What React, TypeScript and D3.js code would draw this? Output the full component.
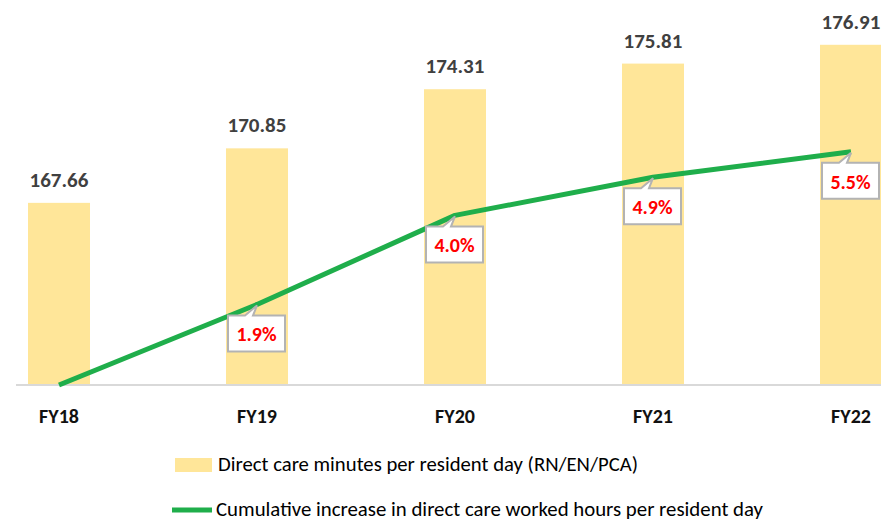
import * as d3 from "d3";

const years = ["FY18", "FY19", "FY20", "FY21", "FY22"];
const careMinutes = [167.66, 170.85, 174.31, 175.81, 176.91];
const cumulativeIncrease = [0, 1.9, 4.0, 4.9, 5.5];
const increaseLabels = ["", "1.9%", "4.0%", "4.9%", "5.5%"];
const legendLabels = [
  "Direct care minutes per resident day (RN/EN/PCA)",
  "Cumulative increase in direct care worked hours per resident day",
];

const width = 881;
const height = 521;
const baseline = 385;
const barWidth = 62;
const font = "Carlito, Calibri, Lato, 'Open Sans', sans-serif";
const barColor = "#ffe699";
const lineColor = "#1fae4b";

export default function App() {
  const x = d3.scalePoint<string>().domain(years).range([59, 851]);
  const yBars = d3.scaleLinear().domain([157, 180]).range([baseline, -8]);
  const yLine = d3.scaleLinear().domain([0, 9]).range([baseline, 3.4]);

  const line = d3
    .line<number>()
    .x((_, i) => x(years[i]) ?? 0)
    .y((d) => yLine(d));

  // box with a little pointer going up-left to the point
  const calloutPath = (px: number, py: number) => {
    const left = px - 29;
    const right = px + 28;
    const top = py + 11;
    const bottom = top + 36;
    return `M${left},${top} L${px - 12},${top} L${px},${py + 1} L${px - 4},${top} L${right},${top} L${right},${bottom} L${left},${bottom} Z`;
  };

  return (
    <svg
      width={width}
      height={height}
      style={{ position: "absolute", left: 0, top: 0, background: "#fff" }}
      fontFamily={font}
    >
      <line x1={16} x2={width} y1={baseline} y2={baseline} stroke="#d9d9d9" strokeWidth={2} />

      {careMinutes.map((v, i) => {
        const cx = x(years[i]) ?? 0;
        const top = yBars(v);
        return (
          <g key={years[i]}>
            <rect x={cx - barWidth / 2} y={top} width={barWidth} height={baseline - top - 1} fill={barColor} />
            <text x={cx} y={top - 16} textAnchor="middle" fontSize={21} fontWeight={700} fill="#404040">
              {v.toFixed(2)}
            </text>
            <text x={cx} y={423} textAnchor="middle" fontSize={20} fontWeight={700} fill="#111">
              {years[i]}
            </text>
          </g>
        );
      })}

      <path d={line(cumulativeIncrease) ?? ""} fill="none" stroke={lineColor} strokeWidth={5} strokeLinejoin="round" />

      {cumulativeIncrease.map((v, i) => {
        if (!increaseLabels[i]) return null;
        const px = x(years[i]) ?? 0;
        const py = yLine(v);
        return (
          <g key={`c-${years[i]}`}>
            <path d={calloutPath(px, py)} fill="#fff" stroke="#b3b3b3" strokeWidth={2} />
            <text x={px - 0.5} y={py + 11 + 26} textAnchor="middle" fontSize={20} fontWeight={700} fill="#ff0000">
              {increaseLabels[i]}
            </text>
          </g>
        );
      })}

      <rect x={175} y={458} width={37} height={14} fill={barColor} />
      <text x={218} y={471} fontSize={20} fill="#000" textLength={420} lengthAdjust="spacingAndGlyphs">
        {legendLabels[0]}
      </text>
      <line x1={172} x2={212} y1={510} y2={510} stroke={lineColor} strokeWidth={5} />
      <text x={216} y={516} fontSize={20} fill="#000" textLength={547} lengthAdjust="spacingAndGlyphs">
        {legendLabels[1]}
      </text>
    </svg>
  );
}
